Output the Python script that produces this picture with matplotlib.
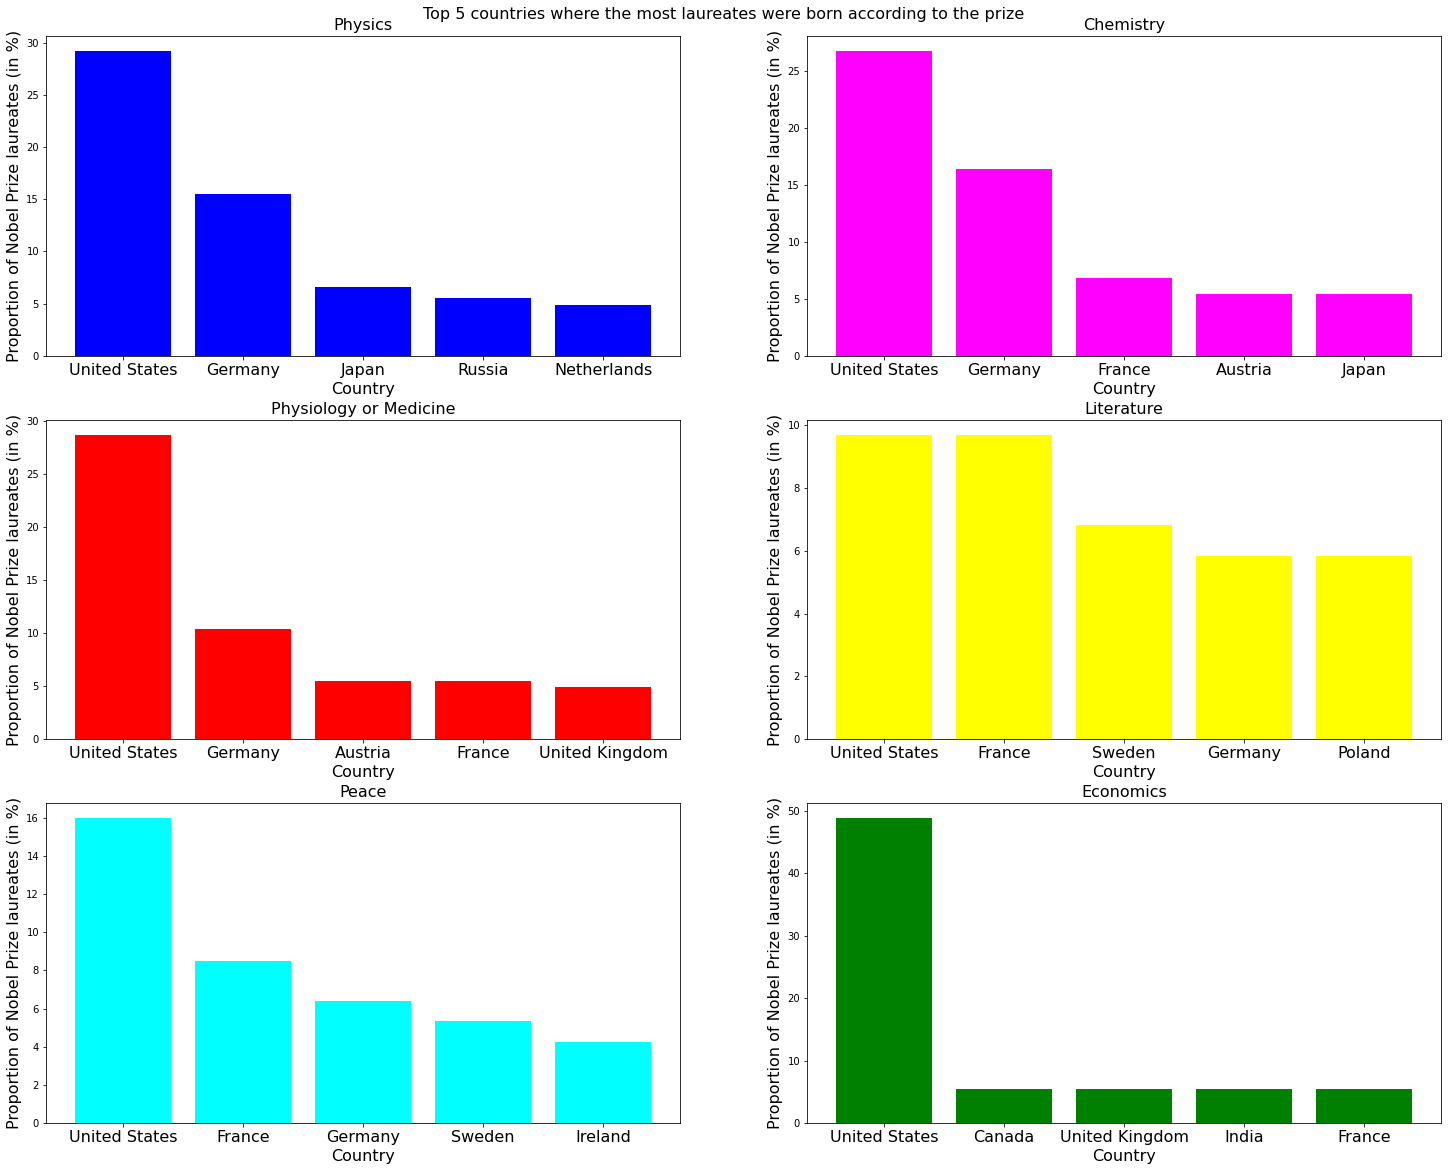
import matplotlib
matplotlib.use("Agg")
import matplotlib.pyplot as plt

prizes = ["Physics", "Chemistry", "Physiology or Medicine", "Literature", "Peace", "Economics"]
colors = ["blue", "magenta", "red", "yellow", "cyan", "green"]

physics_countries = ["United States", "Germany", "Japan", "Russia", "Netherlands"]
physics_values = [29.2, 15.5, 6.6, 5.5, 4.9]

chemistry_countries = ["United States", "Germany", "France", "Austria", "Japan"]
chemistry_values = [26.7, 16.4, 6.85, 5.45, 5.45]

medicine_countries = ["United States", "Germany", "Austria", "France", "United Kingdom"]
medicine_values = [28.7, 10.4, 5.5, 5.5, 4.9]

literature_countries = ["United States", "France", "Sweden", "Germany", "Poland"]
literature_values = [9.68, 9.68, 6.8, 5.83, 5.83]

peace_countries = ["United States", "France", "Germany", "Sweden", "Ireland"]
peace_values = [15.96, 8.51, 6.38, 5.32, 4.26]

economics_countries = ["United States", "Canada", "United Kingdom", "India", "France"]
economics_values = [48.8, 5.44, 5.44, 5.44, 5.44]

countries = [physics_countries, chemistry_countries, medicine_countries,
             literature_countries, peace_countries, economics_countries]
values = [physics_values, chemistry_values, medicine_values,
          literature_values, peace_values, economics_values]

fig, axes = plt.subplots(3, 2, figsize=(1448 / 72, 1171 / 72), dpi=72)
fig.subplots_adjust(left=0.0318, right=0.9952, top=0.9693, bottom=0.041,
                    wspace=0.2003, hspace=0.2)
fig.suptitle("Top 5 countries where the most laureates were born according to the prize",
             fontsize=16, y=0.994)

for ax, prize, c, cs, vs in zip(axes.flat, prizes, colors, countries, values):
    ax.bar(cs, vs, color=c)
    ax.set_title(prize, fontsize=16)
    ax.set_xlabel("Country", fontsize=16)
    ax.set_ylabel("Proportion of Nobel Prize laureates (in %)", fontsize=16)
    ax.tick_params(axis="x", labelsize=16)

fig.savefig("out.png", dpi=72)
